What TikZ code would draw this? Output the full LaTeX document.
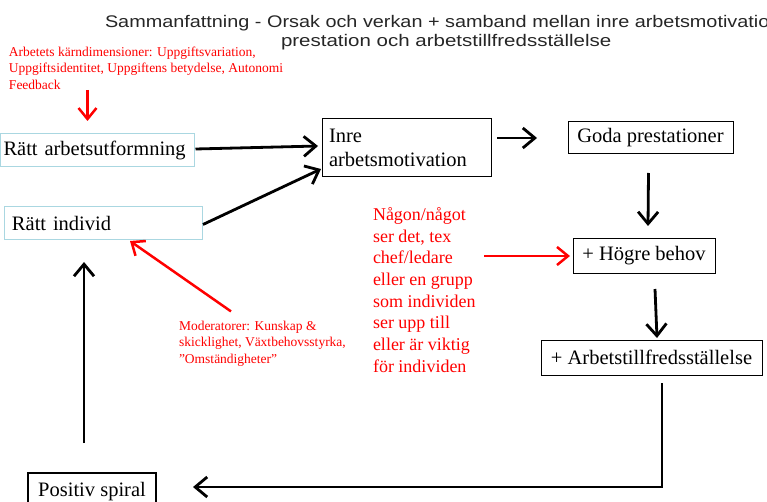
\documentclass[tikz,border=0pt]{standalone}
\usepackage{fontspec}
\usepackage{graphicx}
\setmainfont{Liberation Serif}
\newfontfamily\titlefont{Liberation Sans}
\usetikzlibrary{arrows.meta}
\definecolor{boxblue}{RGB}{170,215,225}
\definecolor{myred}{RGB}{255,0,0}
\begin{document}
\begin{tikzpicture}[x=1pt,y=-1pt,
  every node/.style={inner sep=0pt, outer sep=0pt},
  mainfont/.style={font=\fontsize{20.5}{24}\selectfont},
  bluebox/.style={draw=boxblue, line width=1pt, mainfont, minimum height=33pt, anchor=north west},
  blackbox/.style={draw=black, line width=1pt, mainfont, anchor=north west},
  redsmall/.style={text=myred, font=\fontsize{13.5}{16.5}\selectfont, align=left, anchor=north west},
  redbig/.style={text=myred, font=\fontsize{18}{21.7}\selectfont, align=left, anchor=north west},
  titlestyle/.style={anchor=base west, text=black!85, font=\titlefont\fontsize{16.8}{19}\selectfont},
  blk/.style={draw=black, line width=2.8pt, -{Straight Barb[length=12pt,width=20pt]}},
  rd/.style={draw=myred, line width=2.5pt, -{Straight Barb[length=11pt,width=18pt]}}]
\useasboundingbox (0,0) rectangle (767,502);
\clip (0,0) rectangle (767,502);

% title
\node[titlestyle] (t1) at (105,28) {\scalebox{1.181}[1]{Sammanfattning - Orsak och verkan + samband mellan inre arbetsmotivation}};
\node[titlestyle] (t2) at (281,47) {\scalebox{1.22}[1]{prestation och arbetstillfredsställelse}};

% boxes
\node[bluebox, text width=188pt, inner xsep=3pt, align=left] (rau) at (0.5,134) {Rätt arbetsutformning};
\node[bluebox, text width=182pt, inner xsep=8pt, align=left] (ri) at (4,207) {Rätt individ};
\node[blackbox, text width=155pt, inner xsep=7pt, align=left, minimum height=58pt] (inre) at (322,119) {Inre\\arbetsmotivation};
\node[blackbox, minimum width=165pt, minimum height=32pt] (goda) at (568,122) {Goda prestationer};
\node[blackbox, minimum width=142pt, minimum height=34pt] (hogre) at (573,239) {+ Högre behov};
\node[blackbox, minimum width=221pt, minimum height=35pt] (arb) at (541,340) {+ Arbetstillfredsställelse};
\node[blackbox, line width=2.5pt, minimum width=128pt, minimum height=38pt] (spiral) at (28,473) {Positiv spiral};

% red texts
\node[redsmall] (kard) at (9,46.7) {Arbetets kärndimensioner: Uppgiftsvariation,\\Uppgiftsidentitet, Uppgiftens betydelse, Autonomi\\Feedback};
\node[redsmall] (mod) at (179,320.7) {Moderatorer: Kunskap \&\\skicklighet, Växtbehovsstyrka,\\”Omständigheter”};
\node[redbig] (nagon) at (373,207.4) {Någon/något\\ser det, tex\\chef/ledare\\eller en grupp\\som individen\\ser upp till\\eller är viktig\\för individen};

% arrow end points
\coordinate (a1s) at ([shift={(1pt,1.5pt)}]rau.east);
\coordinate (a1e) at ([shift={(-4pt,2pt)}]inre.west);
\coordinate (a2s) at ([shift={(1pt,-1pt)}]ri.east);
\coordinate (a2e) at ([shift={(-1pt,8pt)}]inre.south west);
\coordinate (a3s) at ([shift={(6pt,10pt)}]inre.east);
\coordinate (a3e) at ([xshift=-31pt]goda.west);
\coordinate (a4s) at ([shift={(-2pt,-19pt)}]goda.south);
\coordinate (a4e) at ([shift={(4pt,13pt)}]hogre.north);
\coordinate (a5s) at ([shift={(11pt,-16pt)}]hogre.south);
\coordinate (a5e) at ([shift={(5.5pt,2pt)}]arb.north);
\coordinate (a6s) at ([shift={(10.5pt,-8pt)}]arb.south);
\coordinate (a6e) at ([shift={(37pt,5pt)}]spiral.east);
\coordinate (a7s) at ([shift={(-8pt,30pt)}]spiral.north);
\coordinate (a7e) at ([shift={(-19pt,-22pt)}]ri.south);

\draw[blk] (a1s) -- (a1e);
\draw[blk] (a2s) -- (a2e);
\draw[blk] (a3s) -- (a3e);
\draw[blk] (a4s) -- (a4e);
\draw[blk] (a5s) -- (a5e);
\draw[blk] (a6s) |- (a6e);
\draw[blk] (a7s) -- (a7e);

% red arrows
\coordinate (r1s) at ([shift={(-10pt,44pt)}]rau.north);
\coordinate (r1e) at ([shift={(-10pt,13pt)}]rau.north);
\coordinate (r2s) at ([xshift=-89pt]hogre.west);
\coordinate (r2e) at ([xshift=-3pt]hogre.west);
\coordinate (r3s) at ([shift={(52pt,9.3pt)}]mod.north west);
\coordinate (r3e) at ([shift={(27pt,-1pt)}]ri.south);
\draw[rd] (r1s) -- (r1e);
\draw[rd] (r2s) -- (r2e);
\draw[rd] (r3s) -- (r3e);
\end{tikzpicture}
\end{document}
